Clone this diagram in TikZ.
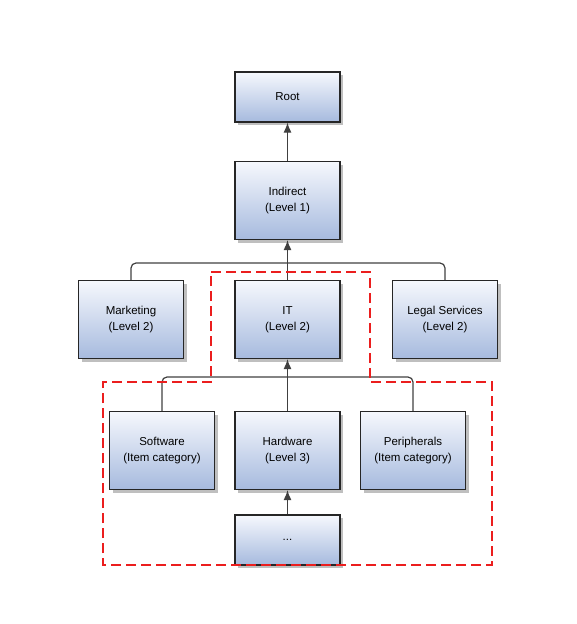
\documentclass[tikz,border=0pt]{standalone}
\usepackage{fontspec}
\setmainfont{Liberation Sans}
\usetikzlibrary{arrows.meta,shadows}
\definecolor{boxblue}{RGB}{166,186,222}
\definecolor{boxtop}{RGB}{246,248,253}
\definecolor{linkgray}{RGB}{64,64,64}
\definecolor{zonered}{RGB}{235,30,30}
\tikzset{
    unit/.style={draw=black!85, line width=1.2pt, top color=boxtop, bottom color=boxblue,
        minimum width=105pt, minimum height=78pt, align=center, inner sep=2pt,
        font=\fontsize{11.5}{16}\selectfont,
        drop shadow={shadow xshift=3pt, shadow yshift=-3pt, fill=black!25, opacity=1}},
    shortunit/.style={unit, minimum height=50pt},
    link/.style={draw=linkgray, line width=1.2pt, rounded corners=5pt},
    uplink/.style={link, -{Latex[length=10pt,width=8pt]}},
    zone/.style={draw=zonered, line width=1.3pt, dash pattern=on 10pt off 5pt},
}

\begin{document}
\begin{tikzpicture}[x=1pt, y=-1pt]
\useasboundingbox (0,0) rectangle (576,624);
% tree of units
\node[shortunit] (root) at (287.5,97) {Root};
\node[unit] (indirect) at (287.5,200.5) {Indirect\\(Level 1)};
\node[unit] (marketing) at (131,319.5) {Marketing\\(Level 2)};
\node[unit] (it) at (287.5,319.5) {IT\\(Level 2)};
\node[unit] (legal) at (445,319.5) {Legal Services\\(Level 2)};
\node[unit] (software) at (162,450.5) {Software\\(Item category)};
\node[unit] (hardware) at (287.5,450.5) {Hardware\\(Level 3)};
\node[unit] (peripherals) at (413,450.5) {Peripherals\\(Item category)};
\node[shortunit] (dots) at (287.5,540) {...};
% junction points
\coordinate (hubtwo) at (287.5,263);
\coordinate (hubthree) at (287.5,377);
% connectors
\draw[uplink] (indirect.north) -- (root.south);
\draw[uplink] (it.north) -- (indirect.south);
\draw[link] (marketing.north) |- (hubtwo);
\draw[link] (legal.north) |- (hubtwo);
\draw[uplink] (hardware.north) -- (it.south);
\draw[link] (software.north) |- (hubthree);
\draw[link] (peripherals.north) |- (hubthree);
\draw[uplink] (dots.north) -- (hardware.south);
% dashed zone
\draw[zone] (211,272) -- (370,272) -- (370,382) -- (492,382) -- (492,565)
    -- (103,565) -- (103,382) -- (211,382) -- cycle;
\end{tikzpicture}
\end{document}
